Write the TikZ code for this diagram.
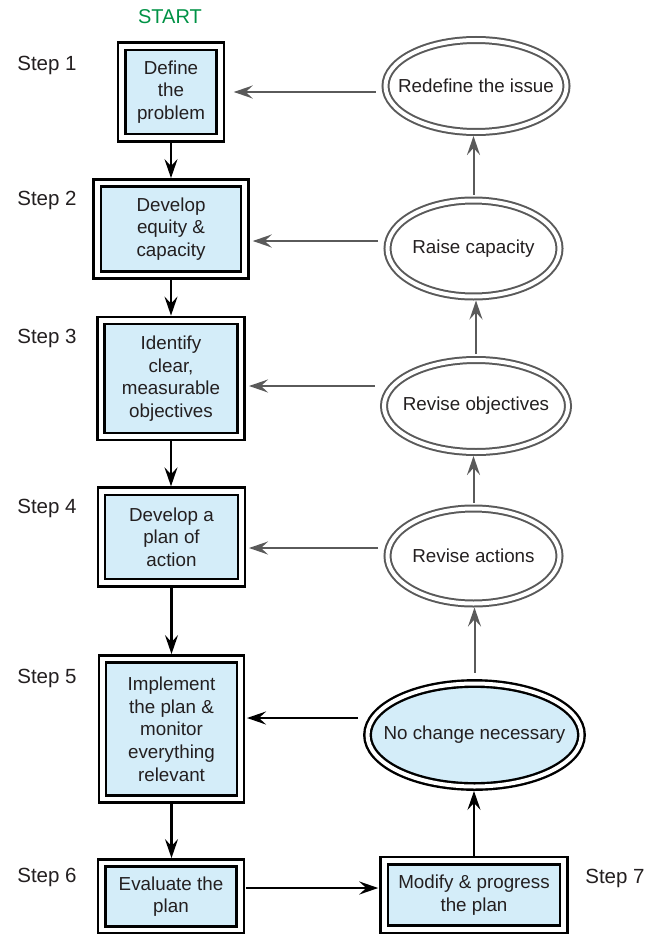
\documentclass[tikz,border=0pt]{standalone}
\usepackage{fontspec}
\setmainfont{Liberation Sans}
\usetikzlibrary{arrows.meta,shapes.geometric}
\definecolor{boxblue}{RGB}{212,237,249}
\definecolor{startgreen}{RGB}{0,146,69}
\definecolor{ellgray}{RGB}{90,90,90}
\definecolor{txtcol}{RGB}{35,31,32}
\tikzset{
  stepbox/.style={draw=black, line width=2.6pt, double=white, double distance=4.6pt, fill=boxblue, inner sep=0pt, outer sep=0pt, align=center, text=txtcol, font={\fontsize{18.8}{22.7}\selectfont}},
  ellbox/.style={ellipse, draw=ellgray, line width=2pt, double=white, double distance=4pt, inner sep=0pt, outer sep=0pt},
  ellblack/.style={ellipse, draw=black, line width=2.4pt, double=white, double distance=4pt, fill=boxblue, inner sep=0pt, outer sep=0pt},
  elltext/.style={text=txtcol, font={\fontsize{18.8}{22.7}\selectfont}, inner sep=0pt},
  steplabel/.style={text=txtcol, font={\fontsize{20.5}{24}\selectfont}, inner sep=0pt},
  barrow/.style={draw=black, line width=2.5pt, -{Stealth[length=19pt,width=13pt,inset=7pt]}},
  garrow/.style={draw=ellgray, line width=2pt, -{Stealth[length=19pt,width=13pt,inset=7pt]}},
}
\begin{document}
\begin{tikzpicture}[x=1pt,y=-1pt]
\useasboundingbox (0,0) rectangle (659,934);

% start and step labels
\node[text=startgreen, font={\fontsize{20}{24}\selectfont}, inner sep=0pt] (start) at (170,17) {START};
\node[steplabel] (s1) at (47,65) {Step 1};
\node[steplabel] (s2) at (47,200) {Step 2};
\node[steplabel] (s3) at (47,338) {Step 3};
\node[steplabel] (s4) at (47,508) {Step 4};
\node[steplabel] (s5) at (47,678) {Step 5};
\node[steplabel] (s6) at (47,877) {Step 6};
\node[steplabel] (s7) at (615,878) {Step 7};

% step boxes
\node[stepbox, minimum width=98.5pt, minimum height=91.5pt] (b1) at (171,92) {Define\\the\\problem};
\node[stepbox, minimum width=147.5pt, minimum height=92pt] (b2) at (171,229) {Develop\\equity \&\\capacity};
\node[stepbox, minimum width=140pt, minimum height=116pt] (b3) at (171,378.5) {Identify\\clear,\\measurable\\objectives};
\node[stepbox, minimum width=140pt, minimum height=91.5pt] (b4) at (171.5,537) {Develop a\\plan of\\action};
\node[stepbox, minimum width=138pt, minimum height=140pt] (b5) at (171.5,729) {Implement\\the plan \&\\monitor\\everything\\relevant};
\node[stepbox, minimum width=138.5pt, minimum height=67pt] (b6) at (171,896.5) {Evaluate the\\plan};
\node[stepbox, minimum width=179.5pt, minimum height=68.5pt] (b7) at (474,895) {Modify \& progress\\the plan};

% ellipses
\node[ellbox, minimum width=181pt, minimum height=92pt] (e1) at (476,86) {};
\node[elltext] (t1) at (e1) {Redefine the issue};
\node[ellbox, minimum width=172pt, minimum height=96pt] (e2) at (473.5,248.5) {};
\node[elltext] (t2) at (e2) {Raise capacity};
\node[ellbox, minimum width=184pt, minimum height=92pt] (e3) at (476,406) {};
\node[elltext] (t3) at (e3) {Revise objectives};
\node[ellbox, minimum width=172pt, minimum height=95pt] (e4) at (473.5,556) {};
\node[elltext] (t4) at (e4) {Revise actions};
\node[ellblack, minimum width=214pt, minimum height=103pt] (e5) at (474.5,735) {};
\node[elltext] (t5) at (e5) {No change necessary};

% vertical black arrows between step boxes
\draw[barrow, shorten <=4.9pt, shorten >=4.9pt] (b1.south) -- (b1.south |- b2.north);
\draw[barrow, shorten <=4.9pt, shorten >=4.9pt] (b2.south) -- (b2.south |- b3.north);
\draw[barrow, shorten <=4.9pt, shorten >=4.9pt] (b3.south) -- (b3.south |- b4.north);
\draw[barrow, shorten <=4.9pt, shorten >=4.9pt] (b4.south) -- (b4.south |- b5.north);
\draw[barrow, shorten <=4.9pt, shorten >=4.9pt] (b5.south) -- (b5.south |- b6.north);

% step 6 -> step 7 -> no change -> step 5
\coordinate (a6) at ([yshift=8.5pt]b6.east);
\draw[barrow, shorten <=5.5pt, shorten >=6pt] (a6) -- (a6 -| b7.west);
\draw[barrow, shorten <=4.9pt, shorten >=4.4pt] (b7.north) -- (b7.north |- e5.south);
\coordinate (a5) at ([yshift=11pt]b5.east);
\draw[barrow, shorten <=9.5pt, shorten >=6.5pt] (a5 -| e5.west) -- (a5);

% gray vertical arrows between ellipses
\draw[garrow, shorten <=11pt, shorten >=4pt] (e5.north) -- (e5.north |- e4.south);
\draw[garrow, shorten <=6pt, shorten >=4pt] (e4.north) -- (e4.north |- e3.south);
\draw[garrow, shorten <=6pt, shorten >=4pt] (e3.north) -- (e3.north |- e2.south);
\draw[garrow, shorten <=6pt, shorten >=4pt] (e2.north) -- (e2.north |- e1.south);

% gray horizontal arrows ellipse -> box
\coordinate (a1) at (b1.east);
\draw[garrow, shorten <=10pt, shorten >=13.5pt] (a1 -| e1.west) -- (a1);
\coordinate (a2) at ([yshift=-12pt]b2.east);
\draw[garrow, shorten <=9.5pt, shorten >=8pt] (a2 -| e2.west) -- (a2);
\coordinate (a3) at ([yshift=-7.5pt]b3.east);
\draw[garrow, shorten <=9.5pt, shorten >=8pt] (a3 -| e3.west) -- (a3);
\coordinate (a4) at ([yshift=-11pt]b4.east);
\draw[garrow, shorten <=9.5pt, shorten >=7.5pt] (a4 -| e4.west) -- (a4);
\end{tikzpicture}
\end{document}
